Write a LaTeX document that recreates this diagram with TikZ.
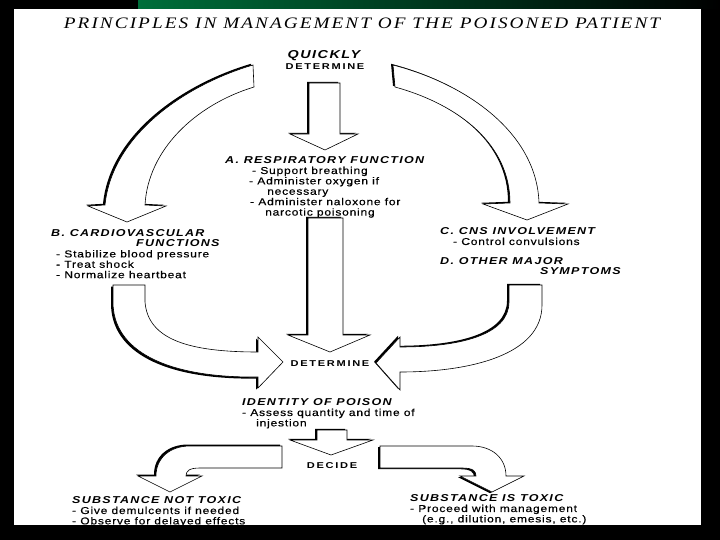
\documentclass[tikz,border=0pt]{standalone}
\usepackage{fontspec}
\usepackage{xcolor}
\usepackage{tikz}
\usetikzlibrary{shadows}
\newfontfamily\titlefont[FakeStretch=1.2, LetterSpace=13]{Liberation Serif}
\newfontfamily\headfont[FakeStretch=1.25, LetterSpace=13]{Liberation Sans}
\newfontfamily\bodyfont[FakeStretch=1.2, FakeBold=0.4, LetterSpace=8]{Liberation Sans}
\newfontfamily\markfont[FakeStretch=1.3, LetterSpace=20]{Liberation Sans}
\definecolor{framegreen}{RGB}{0,110,58}
\newcommand{\keyline}[1]{{\headfont\bfseries\itshape #1}}
\tikzset{
  blockarrow/.style={
    fill=white,
    draw=black,
    line width=0.6pt,
    line join=miter
  },
  shadowed/.style={
    drop shadow={fill=black, opacity=1, shadow xshift=-2pt, shadow yshift=#1}
  },
  shadowed/.default=1.2pt,
  titletext/.style={
    font=\titlefont\itshape\fontsize{16}{18}\selectfont,
    inner sep=0pt
  },
  keytext/.style={
    font=\headfont\bfseries\itshape\fontsize{11.5}{12}\selectfont,
    inner sep=0pt
  },
  marktext/.style={
    font=\markfont\bfseries\fontsize{8.5}{10}\selectfont,
    inner sep=0pt
  },
  blocktext/.style={
    font=\bodyfont\fontsize{10}{10.4}\selectfont,
    align=left,
    anchor=north west,
    inner sep=0pt
  }
}

\begin{document}
\begin{tikzpicture}[x=1pt, y=-1pt]
  \useasboundingbox (0,0) rectangle (720,540);
  \fill[black] (0,0) rectangle (720,540);
  \shade[top color=black, middle color=framegreen, bottom color=black] (0,0) rectangle (14,540);
  \shade[left color=framegreen, right color=black] (138,0) rectangle (720,9);
  \fill[white] (14,9) rectangle (701,525);

  \node[titletext, anchor=base] (title) at (362,29)
    {PRINCIPLES IN MANAGEMENT OF THE POISONED PATIENT};
  \node[keytext, anchor=base] (quickly) at (324,59) {QUICKLY};
  \node[marktext, anchor=base] (firstdet) at (325,69.5) {DETERMINE};

  \draw[blockarrow, shadowed] (309,83) -- (340,83) -- (340,134) -- (358,134)
    -- (325,150) -- (290,134) -- (309,134) -- cycle;
  \draw[blockarrow, shadowed] (253,65) -- (254,87) .. controls (195,105) and (148,150) .. (145,205)
    -- (166,206) -- (127,222) -- (88,206) -- (105,205)
    .. controls (112,135) and (185,85) .. (253,65) -- cycle;
  \draw[blockarrow, shadowed] (393,65) .. controls (470,85) and (537,135) .. (539,203)
    -- (568,204) -- (527,220) -- (483,204) -- (510,203)
    .. controls (510,145) and (460,105) .. (395,87) -- cycle;

  \node[blocktext] (resp) at (225,156.4)
    {\keyline{A. RESPIRATORY FUNCTION}\\
     \hspace*{27pt}- Support breathing\\
     \hspace*{24pt}- Administer oxygen if\\
     \hspace*{42pt}necessary\\
     \hspace*{25pt}- Administer naloxone for\\
     \hspace*{40pt}narcotic poisoning};

  \node[blocktext] (cardio) at (51,229.4)
    {\keyline{B. CARDIOVASCULAR}\\
     \hspace*{85pt}\keyline{FUNCTIONS}\\
     \hspace*{5pt}- Stabilize blood pressure\\
     \hspace*{5pt}- Treat shock\\
     \hspace*{5pt}- Normalize heartbeat};
  \node[blocktext] (cns) at (440,227.4)
    {\keyline{C. CNS INVOLVEMENT}\\
     \hspace*{13pt}- Control convulsions};
  \node[blocktext] (other) at (440,257.4)
    {\keyline{D. OTHER MAJOR}\\
     \hspace*{100pt}\keyline{SYMPTOMS}};

  \draw[blockarrow, shadowed] (308,218) -- (343,218) -- (343,335) -- (370,335)
    -- (330,352) -- (288,335) -- (308,335) -- cycle;
  \draw[blockarrow, shadowed=-1.6pt] (113,285) -- (145,285) -- (145,302)
    .. controls (148,340) and (190,352) .. (258,352) -- (258,337) -- (283,362)
    -- (258,388) -- (258,377) .. controls (165,378) and (113,350) .. (113,302) -- cycle;
  \draw[blockarrow, shadowed] (509,285) -- (542,285) -- (542,305)
    .. controls (542,355) and (470,372) .. (400,372) -- (400,390) -- (376,363)
    -- (400,337) -- (400,347) .. controls (460,347) and (509,335) .. (509,302) -- cycle;

  \node[marktext, anchor=base] (seconddet) at (330,366.5) {DETERMINE};

  \node[blocktext] (identity) at (242,398.4)
    {\keyline{IDENTITY OF POISON}\\
     - Assess quantity and time of\\
     \hspace*{14pt}injestion};

  \draw[blockarrow, shadowed] (317,430) -- (347,430) -- (347,440) -- (373,440)
    -- (331,455) -- (290,440) -- (317,440) -- cycle;
  \node[marktext, anchor=base] (decide) at (332,468.5) {DECIDE};

  \draw[blockarrow, shadowed=1.5pt] (282,446) -- (282,468) -- (200,468)
    .. controls (189,468) and (186,471) .. (186,476) -- (202,476) -- (170,492)
    -- (138,476) -- (156,476) .. controls (156,458) and (170,446) .. (190,446) -- cycle;
  \draw[blockarrow, shadowed=-1.2pt] (380,446) -- (472,446)
    .. controls (492,446) and (506,458) .. (506,476) -- (524,476) -- (492,492)
    -- (460,476) -- (476,476) .. controls (476,471) and (473,468) .. (462,468)
    -- (380,468) -- cycle;

  \node[blocktext] (nottoxic) at (72,496.4)
    {\keyline{SUBSTANCE NOT TOXIC}\\
     - Give demulcents if needed\\
     - Observe for delayed effects};
  \node[blocktext] (toxic) at (410,494.4)
    {\keyline{SUBSTANCE IS TOXIC}\\
     - Proceed with management\\
     \hspace*{12pt}(e.g., dilution, emesis, etc.)};

  \fill[black] (0,525) rectangle (720,540);
\end{tikzpicture}
\end{document}
